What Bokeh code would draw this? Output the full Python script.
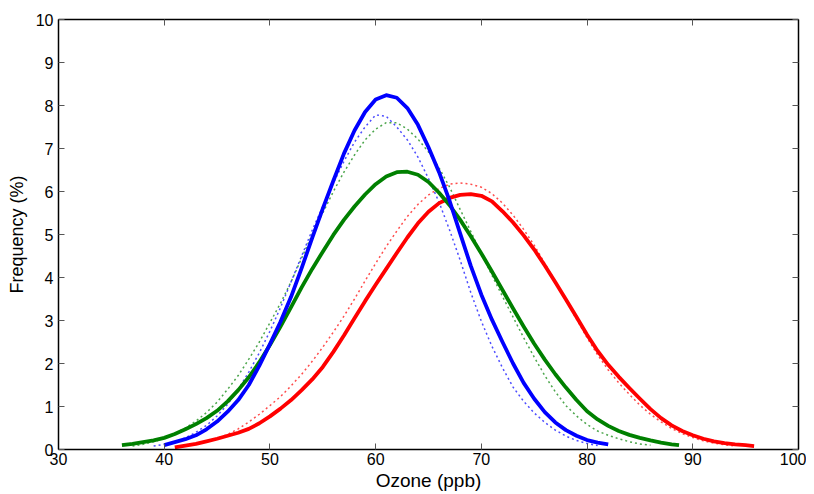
from bokeh.plotting import figure
from bokeh.models import Range1d, LinearAxis, FixedTicker, CustomJSTickFormatter
from bokeh.embed import file_html
from bokeh.resources import INLINE

# ---- data ----
x_ticks = [30, 40, 50, 60, 70, 80, 90, 100]
y_ticks = [0, 1, 2, 3, 4, 5, 6, 7, 8, 9, 10]

blue_x = [40, 41, 42, 43, 44, 45, 46, 47, 48, 49, 50, 51, 52, 53, 54, 55, 56, 57, 58, 59, 60,
          61, 62, 63, 64, 65, 66, 67, 68, 69, 70, 71, 72, 73, 74, 75, 76, 77, 78, 79, 80, 81, 82]
blue_y = [0.10, 0.17, 0.24, 0.33, 0.47, 0.65, 0.88, 1.15, 1.5, 1.95, 2.45, 2.97, 3.55, 4.22, 4.92,
          5.6, 6.25, 6.88, 7.42, 7.85, 8.14, 8.24, 8.18, 7.94, 7.55, 7.03, 6.45, 5.78, 5.02, 4.27,
          3.6, 3.02, 2.5, 2.0, 1.55, 1.18, 0.87, 0.63, 0.45, 0.32, 0.22, 0.16, 0.12]

green_x = [36, 37, 38, 39, 40, 41, 42, 43, 44, 45, 46, 47, 48, 49, 50, 51, 52, 53, 54, 55, 56, 57,
           58, 59, 60, 61, 62, 63, 64, 65, 66, 67, 68, 69, 70, 71, 72, 73, 74, 75, 76, 77, 78, 79,
           80, 81, 82, 83, 84, 85, 86, 87, 88, 88.7]
green_y = [0.10, 0.13, 0.17, 0.21, 0.27, 0.36, 0.47, 0.59, 0.73, 0.9, 1.12, 1.38, 1.68, 2.03, 2.43,
           2.86, 3.31, 3.77, 4.2, 4.6, 4.99, 5.34, 5.65, 5.93, 6.17, 6.35, 6.45, 6.46, 6.39, 6.22,
           5.97, 5.68, 5.34, 4.96, 4.56, 4.14, 3.71, 3.28, 2.86, 2.46, 2.09, 1.75, 1.44, 1.15, 0.89,
           0.7, 0.55, 0.43, 0.34, 0.27, 0.21, 0.16, 0.12, 0.10]

red_x = [41, 42, 43, 44, 45, 46, 47, 48, 49, 50, 51, 52, 53, 54, 55, 56, 57, 58, 59, 60, 61, 62,
         63, 64, 65, 66, 67, 68, 69, 70, 71, 72, 73, 74, 75, 76, 77, 78, 79, 80, 81, 82, 83, 84,
         85, 86, 87, 88, 89, 90, 91, 92, 93, 94, 95, 95.8]
red_y = [0.05, 0.09, 0.13, 0.19, 0.25, 0.32, 0.39, 0.48, 0.61, 0.77, 0.95, 1.15, 1.38, 1.63, 1.92,
         2.27, 2.65, 3.05, 3.45, 3.83, 4.2, 4.57, 4.93, 5.26, 5.53, 5.73, 5.85, 5.92, 5.94, 5.9,
         5.77, 5.54, 5.28, 4.98, 4.65, 4.28, 3.89, 3.49, 3.08, 2.67, 2.29, 1.97, 1.69, 1.43, 1.18,
         0.94, 0.73, 0.56, 0.43, 0.33, 0.25, 0.19, 0.15, 0.12, 0.10, 0.08]

blue_fit_x = [39, 40, 41, 42, 43, 44, 45, 46, 47, 48, 49, 50, 51, 52, 53, 54, 55, 56, 57, 58, 59,
              60, 61, 62, 63, 64, 65, 66, 67, 68, 69, 70, 71, 72, 73, 74, 75, 76, 77, 78, 79, 80, 81]
blue_fit_y = [0.08, 0.12, 0.18, 0.27, 0.4, 0.56, 0.78, 1.05, 1.4, 1.8, 2.25, 2.75, 3.3, 3.9, 4.5,
              5.1, 5.65, 6.2, 6.7, 7.15, 7.5, 7.78, 7.75, 7.5, 7.2, 6.8, 6.3, 5.75, 5.1, 4.4, 3.65,
              2.98, 2.4, 1.9, 1.45, 1.12, 0.85, 0.63, 0.45, 0.31, 0.21, 0.14, 0.09]

green_fit_x = [37, 38, 39, 40, 41, 42, 43, 44, 45, 46, 47, 48, 49, 50, 51, 52, 53, 54, 55, 56, 57,
               58, 59, 60, 61, 62, 63, 64, 65, 66, 67, 68, 69, 70, 71, 72, 73, 74, 75, 76, 77, 78,
               79, 80, 81, 82, 83, 84, 85, 86]
green_fit_y = [0.08, 0.12, 0.18, 0.26, 0.37, 0.5, 0.66, 0.86, 1.1, 1.4, 1.72, 2.1, 2.5, 2.95, 3.4,
               3.9, 4.45, 5.0, 5.5, 6.0, 6.45, 6.85, 7.2, 7.45, 7.6, 7.6, 7.45, 7.22, 6.92, 6.55,
               6.1, 5.58, 5.07, 4.56, 4.05, 3.56, 3.08, 2.6, 2.15, 1.72, 1.34, 1.02, 0.78, 0.58,
               0.43, 0.33, 0.25, 0.18, 0.13, 0.10]

red_fit_x = [42, 43, 44, 45, 46, 47, 48, 49, 50, 51, 52, 53, 54, 55, 56, 57, 58, 59, 60, 61, 62,
             63, 64, 65, 66, 67, 68, 69, 70, 71, 72, 73, 74, 75, 76, 77, 78, 79, 80, 81, 82, 83,
             84, 85, 86, 87, 88, 89, 90, 91, 92, 93, 94]
red_fit_y = [0.08, 0.13, 0.19, 0.26, 0.35, 0.48, 0.64, 0.82, 1.02, 1.23, 1.48, 1.75, 2.05, 2.38,
             2.73, 3.1, 3.5, 3.92, 4.33, 4.72, 5.08, 5.42, 5.7, 5.92, 6.07, 6.17, 6.2, 6.17, 6.1,
             5.95, 5.73, 5.45, 5.12, 4.75, 4.33, 3.9, 3.47, 3.03, 2.6, 2.2, 1.85, 1.55, 1.28,
             1.03, 0.82, 0.64, 0.49, 0.37, 0.28, 0.2, 0.15, 0.11, 0.08]

BLUE, GREEN, RED = "#0000ff", "#008000", "#ff0000"
FONT = "Liberation Sans"

p = figure(width=806, height=493, output_backend="svg", toolbar_location=None,
           x_range=Range1d(30, 100), y_range=Range1d(0, 10),
           x_axis_label="Ozone (ppb)", y_axis_label="Frequency (%)",
           min_border_left=58, min_border_right=8, min_border_top=19, min_border_bottom=8)
p.xgrid.visible = False
p.ygrid.visible = False
p.outline_line_color = "black"
p.outline_line_width = 1
p.background_fill_color = "white"
p.border_fill_color = "white"

bottom_ax = p.below[0]
left_ax = p.left[0]

# mirrored tick-only axes on top and right (box style), no labels
blank = CustomJSTickFormatter(code="return '';")
top_ax = LinearAxis(ticker=FixedTicker(ticks=x_ticks), formatter=blank,
                    major_label_standoff=0)
right_ax = LinearAxis(ticker=FixedTicker(ticks=y_ticks), formatter=blank,
                      major_label_standoff=0)
p.add_layout(top_ax, "above")
p.add_layout(right_ax, "right")

for ax, ticks in ((bottom_ax, x_ticks), (left_ax, y_ticks)):
    ax.ticker = FixedTicker(ticks=ticks)
    ax.major_label_text_font = FONT
    ax.major_label_text_font_size = "16px"
    ax.major_label_text_color = "black"
    ax.axis_label_text_font = FONT
    ax.axis_label_text_font_style = "normal"
    ax.axis_label_text_color = "black"
for ax in (bottom_ax, left_ax, top_ax, right_ax):
    ax.major_tick_in = 6
    ax.major_tick_out = 0
    ax.minor_tick_line_color = None
    ax.major_tick_line_color = "#555555"
    ax.axis_line_color = "black"
    ax.axis_line_width = 1.5
bottom_ax.axis_label_text_font_size = "19px"
left_ax.axis_label_text_font_size = "18px"
bottom_ax.major_label_standoff = 3
left_ax.major_label_standoff = 5
bottom_ax.axis_label_standoff = 2
left_ax.axis_label_standoff = 6

# dotted fit curves
for xs, ys, c in ((red_fit_x, red_fit_y, RED), (green_fit_x, green_fit_y, GREEN),
                  (blue_fit_x, blue_fit_y, BLUE)):
    p.line(xs, ys, line_color=c, line_width=1.5, line_dash="2 3", line_alpha=0.7)

# solid curves
for xs, ys, c in ((red_x, red_y, RED), (green_x, green_y, GREEN), (blue_x, blue_y, BLUE)):
    p.line(xs, ys, line_color=c, line_width=3.8, line_join="round")

open("out.html", "w").write(file_html(p, INLINE))
